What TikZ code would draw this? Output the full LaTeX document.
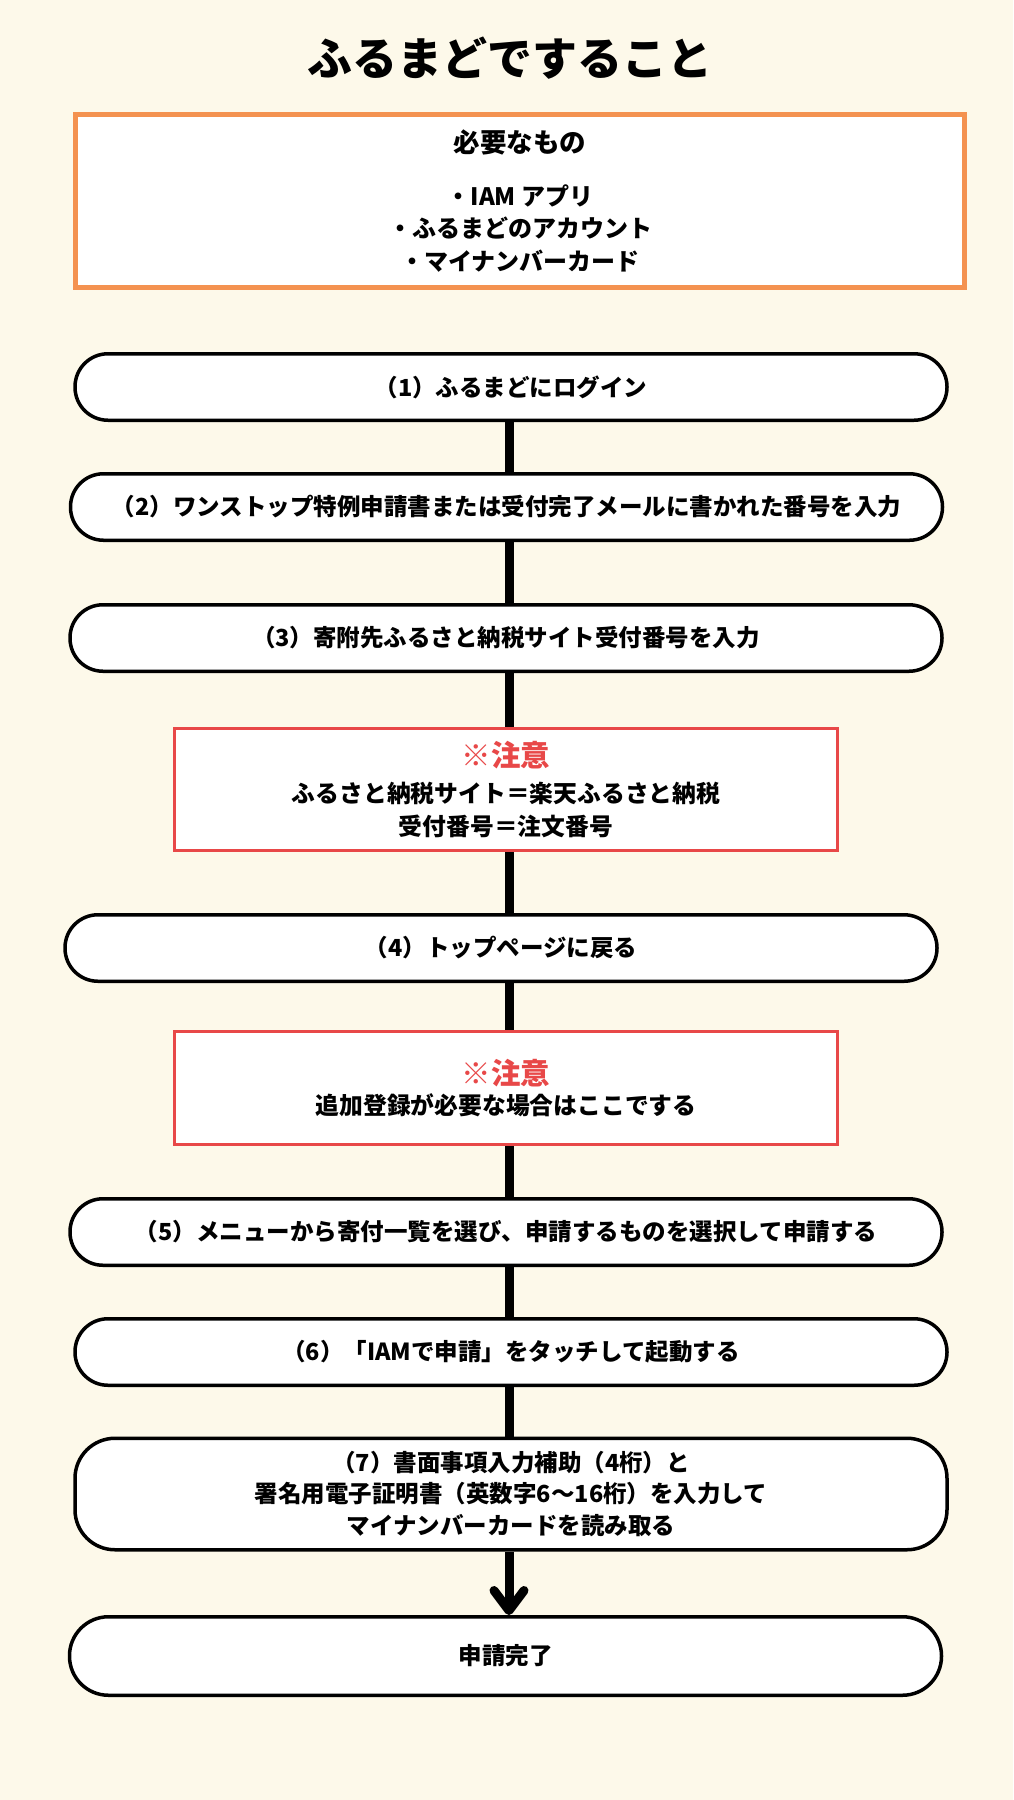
\documentclass[tikz,border=0pt]{standalone}
\usepackage{fontspec}
\setmainfont{Noto Sans CJK JP}
\usepackage{xcolor}
\usetikzlibrary{arrows.meta, positioning}

\definecolor{paper}{HTML}{FDF9EA}
\definecolor{needorange}{HTML}{F49250}
\definecolor{notered}{HTML}{E84848}

\tikzset{
  stepbox/.style={draw=black, line width=3.5pt, fill=white, rounded corners=33pt,
    minimum width=872pt, minimum height=66.5pt, inner sep=0pt, align=center,
    font=\fontsize{23.5}{31.5}\selectfont\bfseries},
  notebox/.style={draw=notered, line width=3pt, fill=white,
    minimum width=663pt, inner sep=0pt, align=center,
    font=\fontsize{23.8}{33}\selectfont\bfseries},
  flow/.style={line width=9pt, black}
}
\newcommand{\notehead}{{\color{notered}\fontsize{29.5}{34}\selectfont ※注意}}

\begin{document}
\begin{tikzpicture}[x=1pt, y=-1pt]
  \useasboundingbox (0,0) rectangle (1013,1800);
  \fill[paper] (0,0) rectangle (1013,1800);
  % Title
  \node[font=\fontsize{45}{50}\selectfont\bfseries] (title) at (510,58) {ふるまどですること};
  % Things needed
  \node[draw=needorange, line width=5pt, fill=white, minimum width=889pt, minimum height=173pt,
    inner sep=0pt, align=center, font=\fontsize{24}{32.5}\selectfont\bfseries] (need) at (520,201)
    {{\fontsize{26.5}{32}\selectfont 必要なもの}\\[20pt]・IAM アプリ\\・ふるまどのアカウント\\・マイナンバーカード};
  % Steps
  \node[stepbox] (n1) at (511,387) {（1）ふるまどにログイン};
  \node[stepbox] (n2) at (506.5,507) {（2）ワンストップ特例申請書または受付完了メールに書かれた番号を入力};
  \node[stepbox] (n3) at (506,638) {（3）寄附先ふるさと納税サイト受付番号を入力};
  \node[notebox, minimum height=122pt] (warn1) at (506,789.5)
    {\notehead\\[3pt]ふるさと納税サイト＝楽天ふるさと納税\\受付番号＝注文番号};
  \node[stepbox] (n4) at (501,948) {（4）トップページに戻る};
  \node[notebox, minimum height=113pt] (warn2) at (506,1088)
    {\notehead\\[-3pt]追加登録が必要な場合はここでする};
  \node[stepbox] (n5) at (506,1232) {（5）メニューから寄付一覧を選び、申請するものを選択して申請する};
  \node[stepbox] (n6) at (511,1352) {（6）「IAMで申請」をタッチして起動する};
  \node[stepbox, minimum height=111.5pt, rounded corners=40pt] (n7) at (511,1494)
    {（7）書面事項入力補助（4桁）と\\署名用電子証明書（英数字6〜16桁）を入力して\\マイナンバーカードを読み取る};
  \node[stepbox, minimum height=78.5pt, rounded corners=39pt] (done) at (505.5,1656) {申請完了};
  % Connectors
  \coordinate (spine) at (509,0);
  \foreach \a/\b in {n1/n2, n2/n3, n3/warn1, warn1/n4, n4/warn2, warn2/n5, n5/n6, n6/n7}
    \draw[flow] (\a.south -| spine) -- (\b.north -| spine);
  \draw[flow, -{Straight Barb[length=20pt, width=30pt, round]}] (n7.south -| spine) -- (done.north -| spine);
\end{tikzpicture}
\end{document}
